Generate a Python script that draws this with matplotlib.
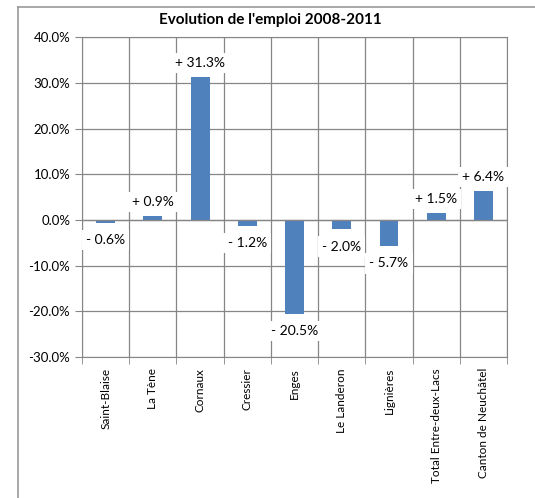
import matplotlib.pyplot as plt
from matplotlib.lines import Line2D
from matplotlib.ticker import FuncFormatter, FixedLocator
import numpy as np

plt.rcParams['font.family'] = ['Lato', 'DejaVu Sans']

communes = ["Saint-Blaise", "La Tène", "Cornaux", "Cressier", "Enges",
            "Le Landeron", "Lignières", "Total Entre-deux-Lacs", "Canton de Neuchâtel"]
evolution = [-0.6, 0.9, 31.3, -1.2, -20.5, -2.0, -5.7, 1.5, 6.4]

W, H = 535, 498
fig = plt.figure(figsize=(W / 100, H / 100), dpi=100)
ax = fig.add_axes([82 / W, 1 - 357 / H, (507 - 82) / W, (357 - 37.5) / H])

x = np.arange(len(communes))
ax.bar(x, evolution, width=0.4, color="#4F81BD", zorder=3)

ax.set_xlim(-0.5, len(communes) - 0.5)
ax.set_ylim(-30, 40)
ax.set_yticks(np.arange(-30, 41, 10))
ax.yaxis.set_major_formatter(FuncFormatter(lambda v, p: f"{v:.1f}%"))
ax.set_xticks(x)
ax.set_xticklabels(communes, rotation=90, fontsize=8.5)
ax.xaxis.set_minor_locator(FixedLocator(np.arange(-0.5, len(communes), 1)))
ax.tick_params(axis="x", which="major", length=0, pad=8)
ax.tick_params(axis="x", which="minor", length=5, color="#868686")
ax.tick_params(axis="y", length=5, color="#868686", labelsize=9.5)

ax.grid(True, axis="y", which="major", color="#868686", linewidth=0.9, zorder=0)
ax.grid(True, axis="x", which="minor", color="#868686", linewidth=0.9, zorder=0)
for s in ax.spines.values():
    s.set_color("#868686")
ax.axhline(0, color="#868686", linewidth=0.9, zorder=4)

for xi, v in zip(x, evolution):
    sign = "+" if v >= 0 else "-"
    off = 3.1 if v >= 0 else -3.8
    ax.text(xi, v + off, f"{sign} {abs(v):.1f}%", ha="center", va="center",
            fontsize=10, zorder=5,
            bbox=dict(facecolor="white", edgecolor="none", pad=3))

fig.text(270 / W, 1 - 20 / H, "Evolution de l'emploi 2008-2011",
         ha="center", va="center", fontsize=11, fontweight="bold")

# chart border (partly cut off in the original)
fig.add_artist(Line2D([18 / W, 18 / W], [0, 1 - 7 / H], transform=fig.transFigure,
                      color="#9a9a9a", linewidth=1.2))
fig.add_artist(Line2D([18 / W, 1], [1 - 7 / H, 1 - 7 / H], transform=fig.transFigure,
                      color="#9a9a9a", linewidth=1.2))

fig.savefig("out.png", dpi=100, facecolor="white")
